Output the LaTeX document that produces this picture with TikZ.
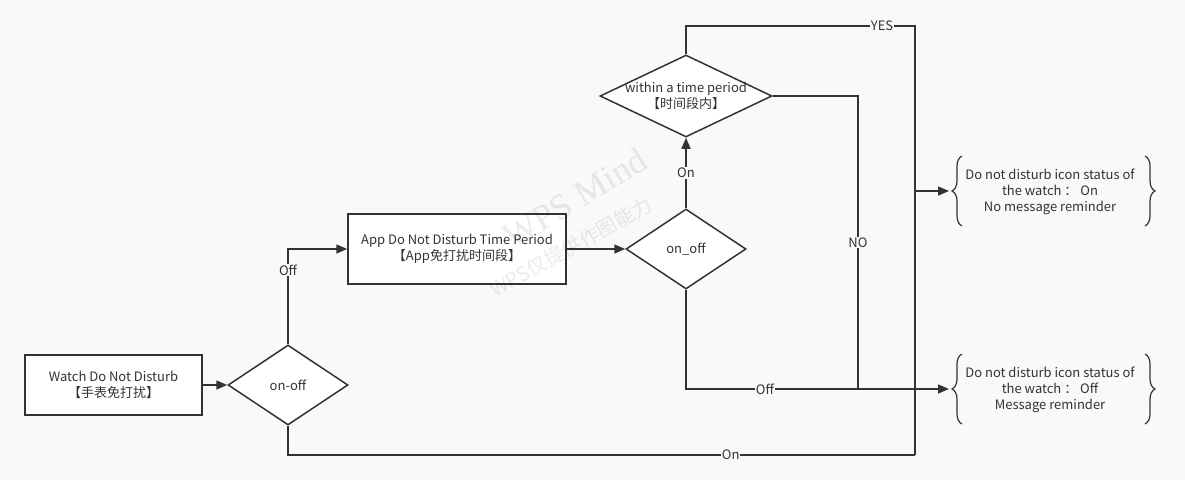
\documentclass[tikz,border=0pt]{standalone}
\usepackage{fontspec}
\setmainfont{Noto Sans CJK SC}
\newfontfamily\wmfont{Liberation Serif}
\usetikzlibrary{shapes.geometric}
\usetikzlibrary{arrows.meta}
\usetikzlibrary{decorations.pathreplacing}

\definecolor{bgc}{HTML}{F9F9F9}
\definecolor{ink}{HTML}{333333}

\tikzset{
  box/.style={draw=ink, fill=white, line width=1.5pt, align=center, text=ink,
    font=\fontsize{13}{16}\selectfont},
  decision/.style={diamond, draw=ink, fill=white, line width=1.5pt, inner sep=0pt},
  txt/.style={text=ink, align=center, font=\fontsize{13}{16}\selectfont},
  flow/.style={draw=ink, line width=1.5pt},
  tip/.style={-{Triangle[length=11pt,width=9pt]}},
  lbl/.style={fill=bgc, inner sep=1pt, text=ink, font=\fontsize{13}{14}\selectfont},
  curly/.style={draw=ink, line width=1.2pt, decorate,
    decoration={brace, amplitude=10pt}},
  wm/.style={text=black, opacity=0.08}
}

\begin{document}
\begin{tikzpicture}[x=1pt,y=-1pt]
\fill[bgc] (0,0) rectangle (1185,480);
\useasboundingbox (0,0) rectangle (1185,480);

% boxes and decisions
\node[box, minimum width=177pt, minimum height=60pt] (watch) at (113.5,385)
  {Watch Do Not Disturb\\【手表免打扰】};
\node[decision, minimum width=120pt, minimum height=80pt] (sw1) at (288,385) {};
\node[txt] (sw1t) at (sw1) {on-off};
\node[box, minimum width=218pt, minimum height=70pt] (app) at (457,249)
  {App Do Not Disturb Time Period\\【App免打扰时间段】};
\node[decision, minimum width=120pt, minimum height=80pt] (sw2) at (686,249) {};
\node[txt] (sw2t) at (sw2) {on\_off};
\node[decision, minimum width=172pt, minimum height=82pt] (period) at (686,96) {};
\node[txt] (periodt) at (period) {within a time period\\【时间段内】};

% results
\node[txt] (quiet) at (1050,192)
  {Do not disturb icon status of\\the watch ： On\\No message reminder};
\node[txt] (loud) at (1050,390)
  {Do not disturb icon status of\\the watch ： Off\\Message reminder};
\draw[curly] (962,226) -- (962,156);
\draw[curly] (1145,156) -- (1145,226);
\draw[curly] (962,424) -- (962,354);
\draw[curly] (1145,354) -- (1145,424);

\coordinate (quiettip) at (949,191);
\coordinate (loudtip) at (949,389);
\coordinate (top) at (915,26);
\coordinate (bus) at (915,191);
\coordinate (bottom) at (915,455);
\coordinate (nobend) at (858,389);

% connectors
\draw[flow, tip] (watch) -- (sw1);
\draw[flow, tip] (sw1.north) |- node[lbl, pos=0.39] {Off} (app.west);
\draw[flow, tip] (app) -- (sw2);
\draw[flow, tip] (sw2.north) -- node[lbl] {On} (period.south);
\draw[flow] (period.north) |- (top) -- (bus);
\node[lbl] (yes) at (882,26) {YES};
\draw[flow] (period.east) -| node[lbl, pos=0.75] {NO} (nobend);
\draw[flow, tip] (sw2.south) |- node[lbl, pos=0.65] {Off} (loudtip);
\draw[flow] (sw1.south) |- node[lbl, pos=0.853] {On} (bottom);
\draw[flow, tip] (bottom) |- (quiettip);

% watermark
\node[wm, rotate=31, font=\wmfont\fontsize{36}{36}\selectfont] (wm1) at (575,198) {WPS Mind};
\node[wm, rotate=29, font=\fontsize{20}{20}\selectfont] (wm2) at (571,247) {WPS仅提供作图能力};
\end{tikzpicture}
\end{document}
